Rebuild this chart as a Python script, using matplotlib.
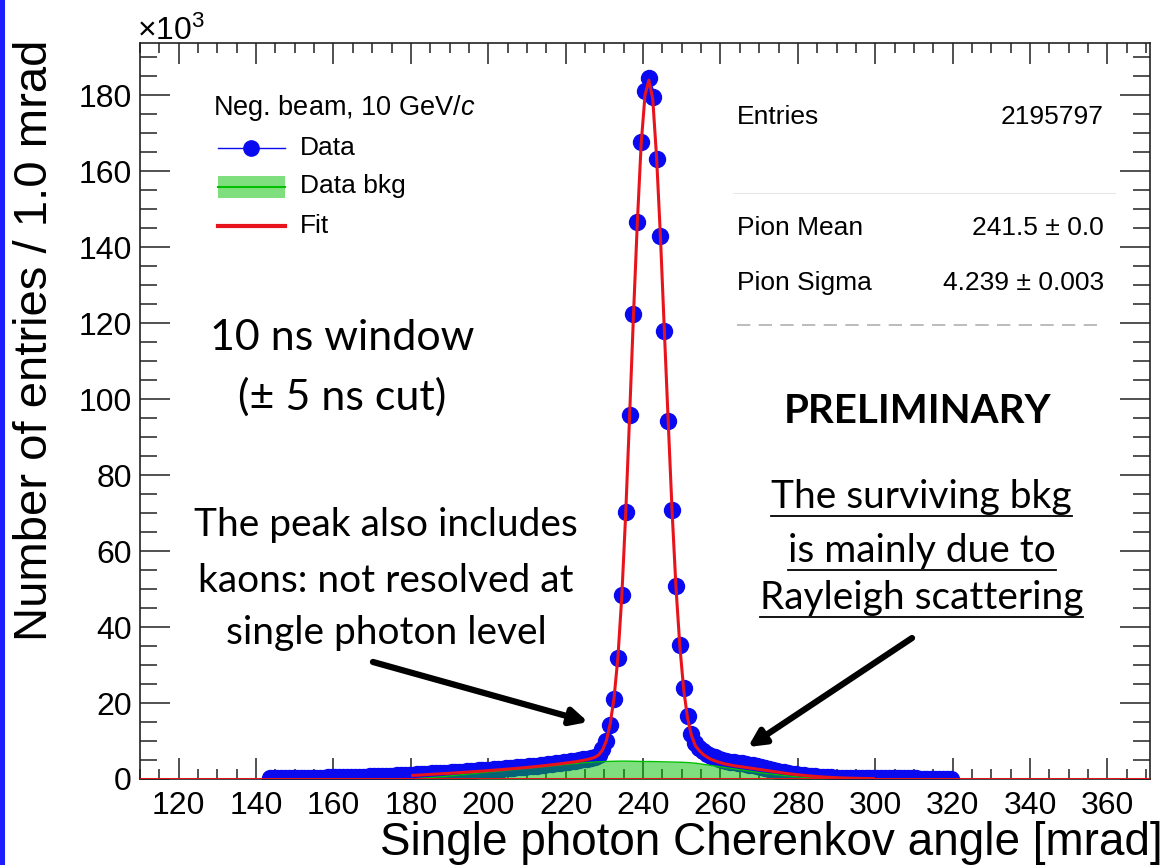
import matplotlib
matplotlib.use("Agg")
import matplotlib.pyplot as plt
import numpy as np
from matplotlib.lines import Line2D
from matplotlib.patches import Rectangle

plt.rcParams['font.family'] = ['Liberation Sans', 'DejaVu Sans']
plt.rcParams['mathtext.fontset'] = 'custom'
plt.rcParams['mathtext.rm'] = 'Liberation Sans'
plt.rcParams['mathtext.it'] = 'Liberation Sans:italic'

W, H = 1168, 865

# Data histogram, 1 mrad bins, counts in units of 10^3
data_x = np.arange(143.5, 320.0, 1.0)
data_y = [
    # 143.5 - 159.5
    0.20, 0.22, 0.22, 0.24, 0.25, 0.26, 0.27, 0.28, 0.30, 0.31, 0.32, 0.34, 0.35, 0.37, 0.38, 0.40, 0.42,
    # 160.5 - 179.5
    0.44, 0.46, 0.48, 0.50, 0.52, 0.55, 0.58, 0.60, 0.63, 0.66, 0.70, 0.74, 0.78, 0.82, 0.86, 0.90, 0.95, 1.00, 1.05, 1.10,
    # 180.5 - 199.5
    1.16, 1.22, 1.28, 1.34, 1.40, 1.46, 1.52, 1.58, 1.64, 1.70, 1.76, 1.83, 1.90, 1.97, 2.04, 2.11, 2.18, 2.25, 2.32, 2.40,
    # 200.5 - 219.5
    2.48, 2.56, 2.64, 2.72, 2.80, 2.89, 2.98, 3.07, 3.16, 3.25, 3.35, 3.45, 3.55, 3.66, 3.77, 3.88, 4.00, 4.12, 4.24, 4.36,
    # 220.5 - 229.5
    4.50, 4.64, 4.80, 4.96, 5.14, 5.34, 5.58, 5.90, 6.40, 7.80,
    # 230.5 - 252.5 (peak)
    10.1, 14.3, 21.0, 31.8, 48.4, 70.4, 95.9, 122.4, 146.5, 167.7, 181.0, 184.6,
    179.4, 163.2, 142.8, 117.8, 94.3, 70.9, 50.8, 35.3, 23.9, 16.5, 11.8,
    # 253.5 - 262.5
    9.4, 8.2, 7.3, 6.6, 6.1, 5.7, 5.3, 5.0, 4.75, 4.55,
    # 263.5 - 272.5
    4.40, 4.25, 4.10, 3.95, 3.80, 3.60, 3.40, 3.15, 2.90, 2.65,
    # 273.5 - 282.5
    2.40, 2.15, 1.95, 1.75, 1.55, 1.40, 1.25, 1.10, 0.98, 0.87,
    # 283.5 - 292.5
    0.77, 0.68, 0.60, 0.54, 0.48, 0.43, 0.39, 0.35, 0.32, 0.30,
    # 293.5 - 302.5
    0.28, 0.26, 0.25, 0.24, 0.23, 0.22, 0.21, 0.20, 0.19, 0.18,
    # 303.5 - 312.5
    0.17, 0.17, 0.16, 0.16, 0.15, 0.15, 0.14, 0.14, 0.13, 0.13,
    # 313.5 - 319.5
    0.12, 0.12, 0.11, 0.11, 0.10, 0.10, 0.10,
]

# Fit function sampled at the bin centres of the fit range
fit_x = np.arange(180.5, 300.0, 1.0)
fit_y = [
    0.95, 1.00, 1.06, 1.12, 1.18, 1.24, 1.30, 1.36, 1.42, 1.48, 1.54, 1.60, 1.67, 1.74, 1.81, 1.88, 1.95, 2.02, 2.09, 2.16,
    2.24, 2.32, 2.40, 2.48, 2.56, 2.64, 2.73, 2.82, 2.91, 3.00, 3.10, 3.20, 3.30, 3.41, 3.52, 3.63, 3.75, 3.87, 3.99, 4.12,
    4.26, 4.40, 4.55, 4.71, 4.89, 5.10, 5.36, 5.70, 6.30, 7.60,
    10.0, 14.5, 21.3, 32.0, 48.0, 69.5, 95.0, 121.5, 146.0, 167.0, 180.0, 183.9,
    179.0, 163.5, 142.5, 118.0, 94.0, 70.5, 50.5, 35.0, 23.5, 16.0, 11.5,
    8.8, 7.5, 6.5, 5.8, 5.2, 4.8, 4.45, 4.15, 3.9, 3.7,
    3.5, 3.35, 3.2, 3.05, 2.9, 2.75, 2.6, 2.45, 2.3, 2.15,
    2.0, 1.85, 1.7, 1.55, 1.42, 1.3, 1.18, 1.06, 0.95, 0.85,
    0.76, 0.68, 0.60, 0.53, 0.47, 0.41, 0.36, 0.32, 0.28, 0.25,
    0.22, 0.19, 0.17, 0.15, 0.13, 0.11, 0.10,
]

# Background estimate (2 mrad steps)
bkg_x = np.arange(180, 291, 2)
bkg_y = [
    0.00, 0.15, 0.30, 0.45, 0.60, 0.80, 1.00, 1.20, 1.40, 1.60,
    1.80, 2.00, 2.20, 2.40, 2.60, 2.80, 3.00, 3.20, 3.40, 3.60,
    3.80, 4.00, 4.20, 4.35, 4.50, 4.60, 4.65, 4.70, 4.70, 4.65,
    4.60, 4.60, 4.55, 4.50, 4.45, 4.40, 4.30, 4.10, 3.80, 3.50,
    3.20, 2.90, 2.60, 2.30, 2.00, 1.70, 1.45, 1.20, 0.95, 0.75,
    0.55, 0.40, 0.25, 0.15, 0.05, 0.00,
]

x_ticks = np.arange(120, 361, 20)
y_ticks = np.arange(0, 181, 20)

stats_names = ["Entries", "Pion Mean", "Pion Sigma"]
stats_values = ["2195797", "241.5 ± 0.0", "4.239 ± 0.003"]

blue = "#0a0af0"
red = "#e8141c"
green = "#00c000"


def fx(x):
    return x / W


def fy(y):
    return 1 - y / H


fig = plt.figure(figsize=(W / 100, H / 100), dpi=100)
ax = fig.add_axes([fx(140), fy(779), (1150 - 140) / W, (779 - 43) / H])

ax.plot(data_x, data_y, 'o', color=blue, ms=11.5, mec=blue, zorder=2)
ax.fill_between(bkg_x, bkg_y, 0, color=green, alpha=0.5, lw=0, zorder=3)
ax.plot(bkg_x, bkg_y, color=green, lw=1, zorder=3)
ax.axhline(0, color=red, lw=2.2, zorder=4)
ax.plot(fit_x, fit_y, color=red, lw=2.2, zorder=5)

ax.set_xlim(110, 371)
ax.set_ylim(0, 193.7)
ax.set_xticks(x_ticks)
ax.set_yticks(y_ticks)
ax.set_xticks(np.arange(110, 371, 5), minor=True)
ax.set_yticks(np.arange(0, 193, 5), minor=True)
ax.tick_params(axis='both', which='both', direction='in', top=True, right=True,
               width=1.1, labelsize=23, color='#222222')
ax.tick_params(axis='x', which='major', length=15, pad=9)
ax.tick_params(axis='x', which='minor', length=7)
ax.tick_params(axis='y', which='major', length=21.5, pad=6)
ax.tick_params(axis='y', which='minor', length=12)
for s in ax.spines.values():
    s.set_linewidth(1.2)
    s.set_color('#222222')

# axis titles
fig.text(fx(1163), fy(843), "Single photon Cherenkov angle [mrad]", ha='right', va='center', fontsize=33)
fig.text(fx(35), fy(40), "Number of entries / 1.0 mrad", ha='center', va='top', rotation=90, fontsize=34)
fig.text(fx(137), fy(40), "×10$^{3}$", ha='left', va='baseline', fontsize=23)

# legend
fig.text(fx(213), fy(108), "Neg. beam, 10 GeV/$c$", ha='left', va='center', fontsize=19.5)
fig.add_artist(Line2D([fx(218), fx(285)], [fy(148), fy(148)], color=blue, lw=1))
fig.add_artist(Line2D([fx(251)], [fy(148)], marker='o', color=blue, ms=11))
fig.add_artist(Rectangle((fx(218), fy(198)), fx(67), 22 / H, color=green, alpha=0.5, lw=0))
fig.add_artist(Line2D([fx(218), fx(285)], [fy(187), fy(187)], color=green, lw=1.5))
fig.add_artist(Line2D([fx(218), fx(285)], [fy(226), fy(226)], color=red, lw=3))
for label, yy in zip(["Data", "Data bkg", "Fit"], [148, 186, 226]):
    fig.text(fx(300), fy(yy), label, ha='left', va='center', fontsize=19)

# statistics box
for name, value, yy in zip(stats_names, stats_values, [117, 228, 283]):
    fig.text(fx(737), fy(yy), name, ha='left', va='center', fontsize=19)
    fig.text(fx(1104), fy(yy), value, ha='right', va='center', fontsize=19)
fig.add_artist(Line2D([fx(733), fx(1115)], [fy(193), fy(193)], color='#e8e8e8', lw=0.8))
fig.add_artist(Line2D([fx(737), fx(1104)], [fy(325), fy(325)], color='#b0b0b0', lw=1.2,
                      dashes=(8, 5)))

# annotations
ann = dict(family=['Lato', 'DejaVu Sans'], ha='center', va='center')
ax.text(162.2, 116, "10 ns window", fontsize=31, **ann)
ax.text(162.2, 100.5, "(± 5 ns cut)", fontsize=31, **ann)
ax.text(311, 96.6, "PRELIMINARY", fontweight='bold', fontsize=29, **ann)
peak_lines = ["The peak also includes", "kaons: not resolved at", "single photon level"]
for t, yy in zip(peak_lines, [66.8, 52.1, 38.4]):
    ax.text(173.6, yy, t, fontsize=28, **ann)
bkg_lines = ["The surviving bkg", "is mainly due to", "Rayleigh scattering"]
bkg_texts = [ax.text(312, yy, t, fontsize=28, **ann) for t, yy in zip(bkg_lines, [74.2, 60.0, 47.6])]

arrow = dict(arrowstyle='-|>,head_length=1.0,head_width=0.5', color='black', lw=4.5, shrinkA=0, shrinkB=0)
ax.annotate("", xy=(225.8, 15.0), xytext=(170.2, 30.8), arrowprops=arrow, zorder=6)
ax.annotate("", xy=(267.1, 8.4), xytext=(309.5, 37.1), arrowprops=arrow, zorder=6)

# blue strip along the left edge
fig.add_artist(Rectangle((0, 0), 5 / W, 1, color='#1c1cff', lw=0))

# underline the background note
fig.canvas.draw()
r = fig.canvas.get_renderer()
for t in bkg_texts:
    bb = t.get_window_extent(r)
    yline = (bb.y0 - 1) / H
    fig.add_artist(Line2D([bb.x0 / W, bb.x1 / W], [yline, yline], color='black', lw=1.3))

fig.savefig("out.png", dpi=100)
